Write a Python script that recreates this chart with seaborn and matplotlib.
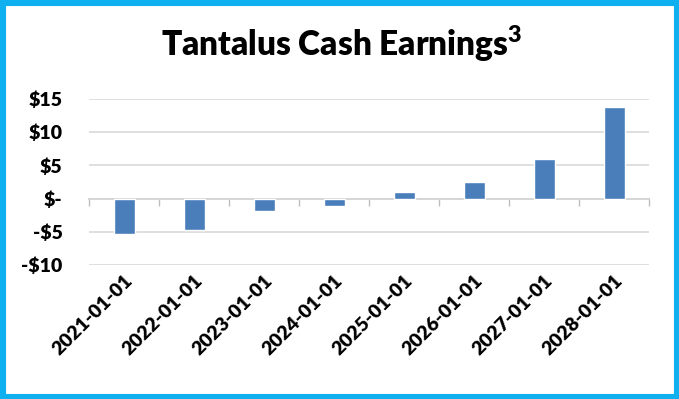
import numpy as np
import pandas as pd
import seaborn as sns
import matplotlib
matplotlib.use("Agg")
import matplotlib.pyplot as plt
from matplotlib.patches import Rectangle

# Data
dates = ["2021-01-01", "2022-01-01", "2023-01-01", "2024-01-01",
         "2025-01-01", "2026-01-01", "2027-01-01", "2028-01-01"]
earnings = [-5.3, -4.8, -1.9, -1.1, 1.0, 2.5, 6.0, 13.8]
yticks = [-10, -5, 0, 5, 10, 15]
ytick_labels = ["-$10", "-$5", "$-", "$5", "$10", "$15"]
title = r"Tantalus Cash Earnings$^{\mathbf{3}}$"

df = pd.DataFrame({"date": dates, "earnings": earnings})

sns.set_theme(style="white")
plt.rcParams["font.family"] = ["Lato", "DejaVu Sans"]
plt.rcParams["mathtext.fontset"] = "custom"
plt.rcParams["mathtext.bf"] = "Lato:heavy"
plt.rcParams["mathtext.rm"] = "Lato"

fig = plt.figure(figsize=(6.79, 3.99), dpi=100)
ax = fig.add_axes([89 / 679, 1 - 265 / 399, 560 / 679, 166 / 399])

sns.barplot(data=df, x="date", y="earnings", color="#4A7EBB", saturation=1,
            width=0.3, ax=ax, zorder=3)

ylo, yhi = -10, 15
ax.set_ylim(ylo, yhi)
ax.set_xlim(-0.5, len(dates) - 0.5)
ax.set_yticks(yticks)
ax.set_yticklabels(ytick_labels, fontsize=14, fontweight="heavy", color="black")
ax.yaxis.grid(True, color="#D9D9D9", linewidth=1.2, zorder=0)
ax.set_axisbelow(True)
for s in ax.spines.values():
    s.set_visible(False)
ax.tick_params(axis="y", length=0, pad=19)
ax.tick_params(axis="x", length=0, pad=5)
ax.set_xticks(range(len(dates)))
ax.set_xticklabels(dates, rotation=45, ha="right", rotation_mode="anchor",
                   fontsize=14, fontweight="heavy", color="black")
ax.set_xlabel("")
ax.set_ylabel("")

# zero axis with boundary tick marks
sec = ax.secondary_xaxis((0 - ylo) / (yhi - ylo))
sec.set_xticks(np.arange(len(dates) + 1) - 0.5)
sec.set_xticklabels([])
sec.tick_params(axis="x", length=5, width=1, color="#BFBFBF", direction="out")
sec.spines["bottom"].set_color("#BFBFBF")
sec.spines["bottom"].set_linewidth(1.2)

fig.text(342 / 679, 1 - 44 / 399, title, ha="center", va="center",
         fontsize=24, fontweight="heavy", color="black")

fig.patches.append(Rectangle((0, 0), 1, 1, transform=fig.transFigure,
                             fill=False, edgecolor="#0FB0F0", linewidth=8,
                             zorder=10))

fig.savefig("out.png", dpi=100)
